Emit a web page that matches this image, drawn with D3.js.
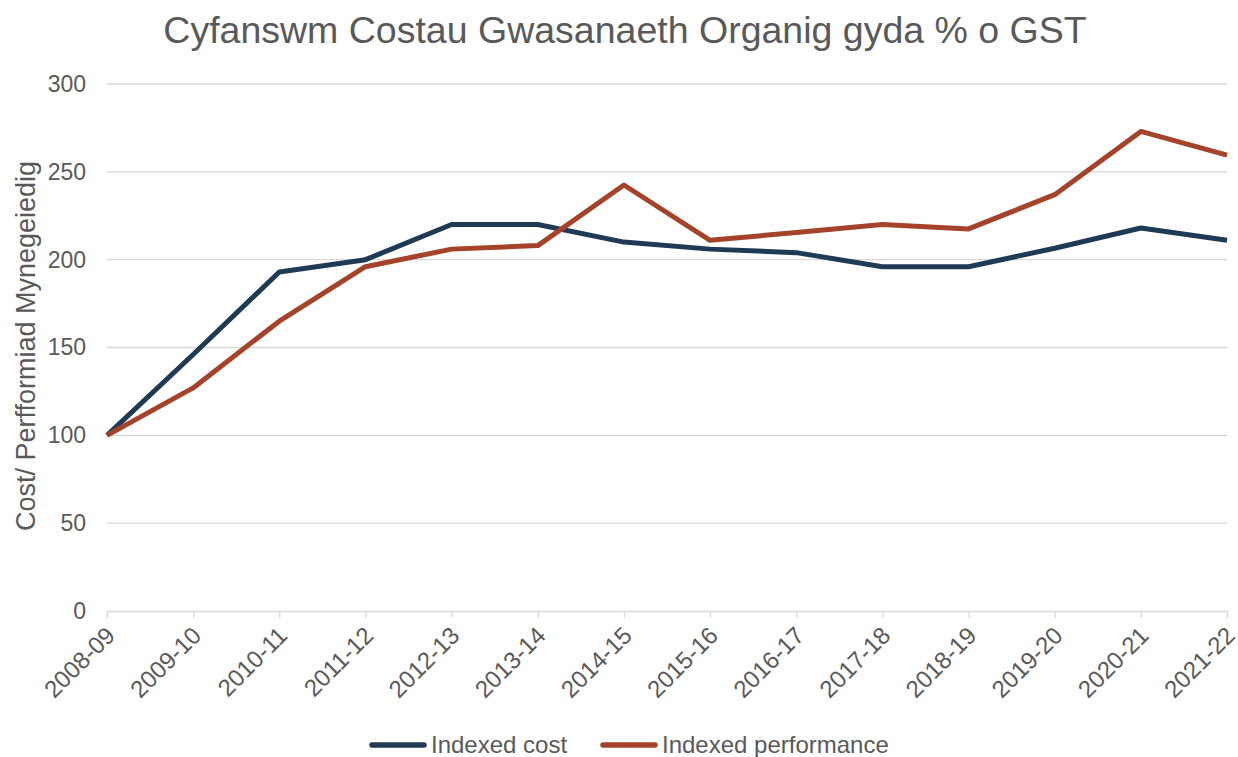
<!DOCTYPE html>
<html>
<head>
<meta charset="utf-8">
<script src="https://cdn.jsdelivr.net/npm/d3@7"></script>
<style>
  body { margin: 0; background: #fff; }
  svg text { font-family: "Liberation Sans", Arial, sans-serif; fill: #595959; }
</style>
</head>
<body>
<div id="chart"></div>
<script>
// data
const years = ["2008-09", "2009-10", "2010-11", "2011-12", "2012-13", "2013-14", "2014-15",
  "2015-16", "2016-17", "2017-18", "2018-19", "2019-20", "2020-21", "2021-22"];
const indexedCost = [100, 146, 193, 200, 220, 220, 210, 206, 204, 196, 196, 206.5, 218, 211];
const indexedPerformance = [100, 127, 165, 196, 206, 208, 242.5, 211, 215.5, 220, 217.5, 237, 273, 259.5];
const yTicks = [0, 50, 100, 150, 200, 250, 300];

const seriesList = [
  { name: "Indexed cost", values: indexedCost, color: "#1e3a55" },
  { name: "Indexed performance", values: indexedPerformance, color: "#a5432a" }
];

const width = 1238, height = 757;
const margin = { top: 84, right: 11, bottom: 146, left: 107 };
const innerW = width - margin.left - margin.right;
const innerH = height - margin.top - margin.bottom;

const svg = d3.select("#chart").append("svg")
  .attr("width", width)
  .attr("height", height);

const g = svg.append("g").attr("transform", `translate(${margin.left},${margin.top})`);

// scales
const x = d3.scalePoint().domain(years).range([0, innerW]);
const y = d3.scaleLinear().domain([0, 300]).range([innerH, 0]);

// gridlines
g.append("g").selectAll("line")
  .data(yTicks.filter(d => d > 0))
  .join("line")
  .attr("x1", 0).attr("x2", innerW)
  .attr("y1", d => y(d)).attr("y2", d => y(d))
  .attr("stroke", "#d9d9d9").attr("stroke-width", 1.3);

// y axis
const yAxis = g.append("g").call(d3.axisLeft(y).tickValues(yTicks).tickSize(0).tickPadding(21));
yAxis.select(".domain").remove();
yAxis.selectAll("text").attr("font-size", 23).style("fill", "#595959");

// x axis
const xAxis = g.append("g")
  .attr("transform", `translate(0,${innerH})`)
  .call(d3.axisBottom(x).tickSize(7));
xAxis.select(".domain").attr("stroke", "#d9d9d9").attr("stroke-width", 1.3);
xAxis.selectAll(".tick line").attr("stroke", "#d9d9d9").attr("stroke-width", 1.3);
xAxis.selectAll("text")
  .attr("font-size", 24)
  .attr("text-anchor", "end")
  .attr("x", 0).attr("y", 0)
  .attr("dy", "0.35em")
  .attr("transform", "translate(3,20) rotate(-45)")
  .style("fill", "#595959");

// lines
const line = d3.line().x((d, i) => x(years[i])).y(d => y(d));
g.selectAll(".series")
  .data(seriesList)
  .join("path")
  .attr("class", "series")
  .attr("fill", "none")
  .attr("stroke", d => d.color)
  .attr("stroke-width", 5)
  .attr("stroke-linejoin", "round")
  .attr("d", d => line(d.values));

// title
svg.append("text")
  .attr("x", 625).attr("y", 43)
  .attr("text-anchor", "middle")
  .attr("font-size", 37.5)
  .text("Cyfanswm Costau Gwasanaeth Organig gyda % o GST");

// y axis title
svg.append("text")
  .attr("transform", `translate(35,346) rotate(-90)`)
  .attr("text-anchor", "middle")
  .attr("font-size", 27)
  .text("Cost/ Perfformiad Mynegeiedig");

// legend
const legend = svg.append("g").attr("transform", "translate(372,745)");
const items = legend.selectAll("g").data(seriesList).join("g")
  .attr("transform", (d, i) => `translate(${i * 231},0)`);
items.append("line")
  .attr("x1", 0).attr("x2", 52)
  .attr("stroke", d => d.color)
  .attr("stroke-width", 5.5)
  .attr("stroke-linecap", "round");
items.append("text")
  .attr("x", 59).attr("y", 8)
  .attr("font-size", 24)
  .text(d => d.name);
</script>
</body>
</html>
